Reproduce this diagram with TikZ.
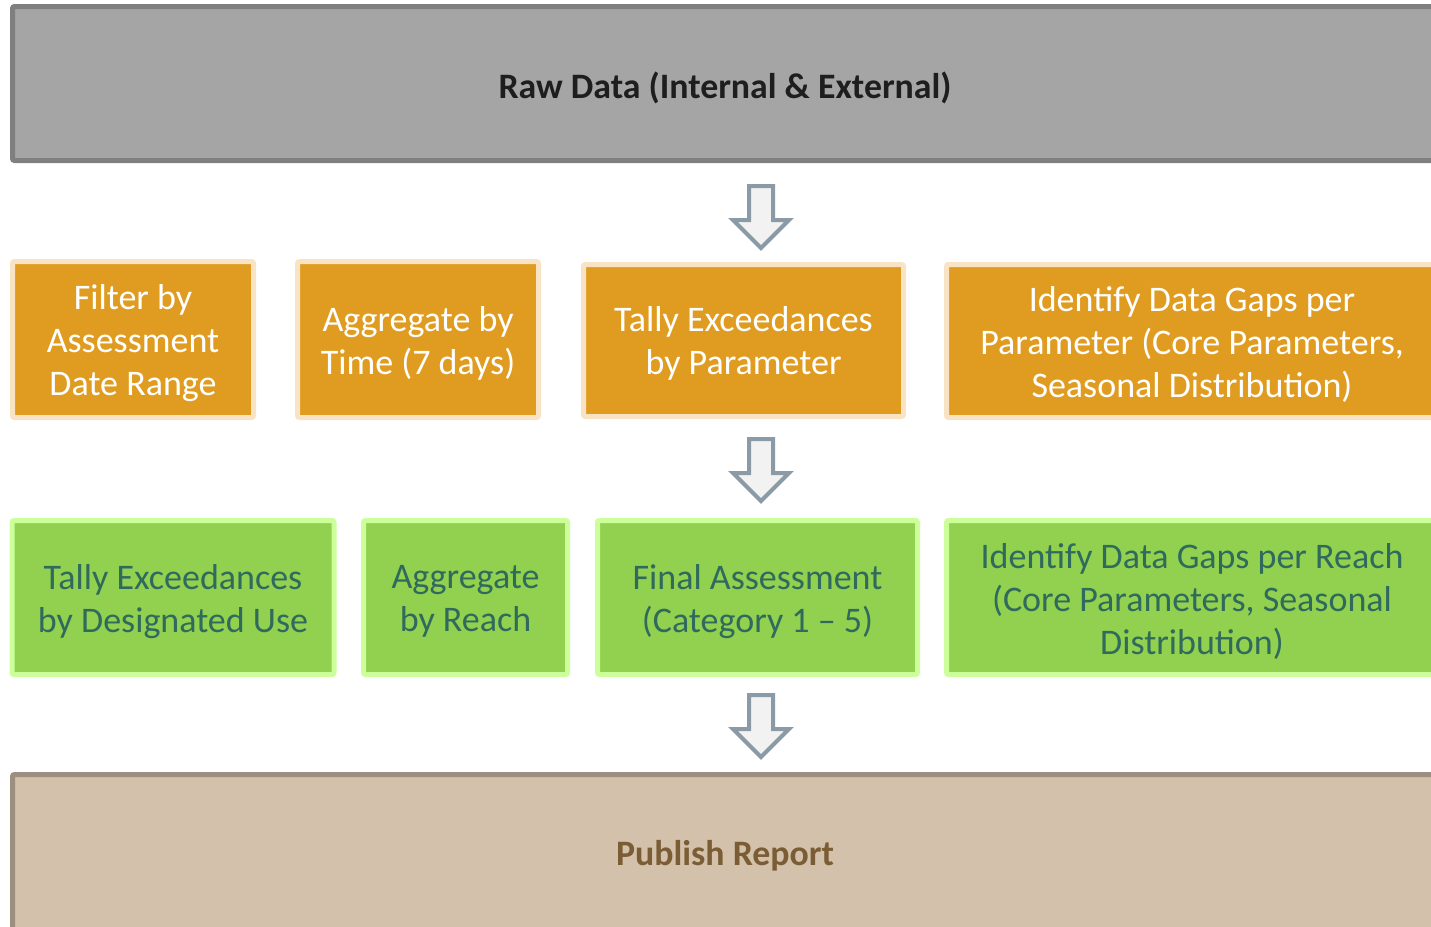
\documentclass[tikz,border=0pt]{standalone}
\usepackage{fontspec}
\setmainfont{Carlito}

\definecolor{rawfill}{HTML}{A5A5A5}
\definecolor{rawedge}{HTML}{7F7F7F}
\definecolor{rawtext}{HTML}{1E1E1E}
\definecolor{orfill}{HTML}{DF9C21}
\definecolor{oredge}{HTML}{F8E4C5}
\definecolor{grfill}{HTML}{92D050}
\definecolor{gredge}{HTML}{CCFF99}
\definecolor{grtext}{HTML}{2F6A5C}
\definecolor{tanfill}{HTML}{D3C1AB}
\definecolor{tanedge}{HTML}{9D8F80}
\definecolor{tantext}{HTML}{7B5D35}
\definecolor{arredge}{HTML}{8A9BA7}
\definecolor{arrfill}{HTML}{F2F2F2}

\begin{document}
\begin{tikzpicture}[x=1pt,y=-1pt,
  box/.style={draw, line width=5pt, rounded corners=2pt, inner sep=0pt},
  label text/.style={align=center, inner sep=0pt, font=\fontsize{36}{43}\selectfont},
  head text/.style={align=center, inner sep=0pt, font=\fontsize{35.8}{43}\selectfont\bfseries},
  rawbox/.style={box, draw=rawedge, fill=rawfill},
  orbox/.style={box, draw=oredge, fill=orfill},
  grbox/.style={box, draw=gredge, fill=grfill},
  tanbox/.style={box, draw=tanedge, fill=tanfill},
  blockarrow/.style={draw=arredge, fill=arrfill, line width=4pt, line join=miter},
  flowarrow/.pic={
    \path[blockarrow] (-12,0) -- (12,0) -- (12,34) -- (28,34) -- (0,62)
      -- (-28,34) -- (-12,34) -- cycle;
  }
]
\useasboundingbox (0,0) rectangle (1431,926);
\clip (0,0) rectangle (1431,926);

% top source box
\node[rawbox, minimum width=1425pt, minimum height=154pt] (raw) at (725,83.5) {};
\node[head text, text=rawtext] (raw-t) at ([yshift=-4pt]raw.center)
  {Raw Data (Internal \& External)};

% first processing row
\node[orbox, minimum width=241pt, minimum height=156pt] (filter) at (133,339.5) {};
\node[orbox, minimum width=241pt, minimum height=156pt] (aggtime) at (418,339.5) {};
\node[orbox, minimum width=320pt, minimum height=152pt] (tallypar) at (743.5,340.5) {};
\node[orbox, minimum width=491pt, minimum height=153pt] (gapspar) at (1192,341) {};
\begin{scope}[every node/.style={label text, text=white}]
  \node (filter-t) at ([yshift=-4pt]filter.center) {Filter by\\Assessment\\Date Range};
  \node (aggtime-t) at ([yshift=-4pt]aggtime.center) {Aggregate by\\Time (7 days)};
  \node (tallypar-t) at ([yshift=-3pt]tallypar.center) {Tally Exceedances\\by Parameter};
  \node (gapspar-t) at ([yshift=-3pt]gapspar.center)
    {Identify Data Gaps per\\Parameter (Core Parameters,\\Seasonal Distribution)};
\end{scope}

% second processing row
\node[grbox, minimum width=322pt, minimum height=154pt] (tallyuse) at (173,597.5) {};
\node[grbox, minimum width=204pt, minimum height=154pt] (aggreach) at (465.5,597.5) {};
\node[grbox, minimum width=320pt, minimum height=154pt] (final) at (757.5,597.5) {};
\node[grbox, minimum width=491pt, minimum height=154pt] (gapsreach) at (1192,597.5) {};
\begin{scope}[every node/.style={label text, text=grtext}]
  \node (tallyuse-t) at ([yshift=-4pt]tallyuse.center) {Tally Exceedances\\by Designated Use};
  \node (aggreach-t) at ([yshift=-4pt]aggreach.center) {Aggregate\\by Reach};
  \node (final-t) at ([yshift=-4pt]final.center) {Final Assessment\\(Category 1 – 5)};
  \node (gapsreach-t) at ([yshift=-4pt]gapsreach.center)
    {Identify Data Gaps per Reach\\(Core Parameters, Seasonal\\Distribution)};
\end{scope}

% output box
\node[tanbox, minimum width=1425pt, minimum height=157pt] (report) at (725,853) {};
\node[head text, text=tantext] (report-t) at ([yshift=-3pt]report.center) {Publish Report};

% hollow block arrows between the stages
\pic at (761,186) {flowarrow};
\pic at (761,439) {flowarrow};
\pic at (761,695) {flowarrow};
\end{tikzpicture}
\end{document}
